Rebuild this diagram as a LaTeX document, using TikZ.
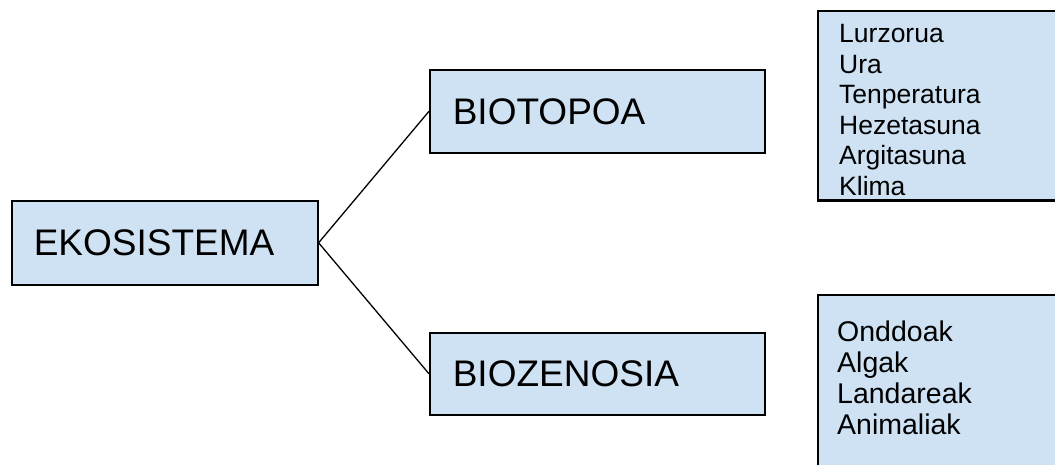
\documentclass[tikz,border=0pt]{standalone}
\usepackage{fontspec}
\setmainfont{Liberation Sans}
\definecolor{boxblue}{HTML}{CFE2F3}
\begin{document}
\begin{tikzpicture}[x=1pt,y=-1pt,
  box/.style={draw=black, fill=boxblue, line width=1.6pt, anchor=north west, inner ysep=0pt, align=left,
    font=\fontsize{37}{44}\selectfont},
  listbox/.style={fill=boxblue, anchor=north west, inner sep=0pt},
  listborder/.style={draw=black, line width=2.6pt},
  listtext/.style={anchor=base west, inner sep=0pt, align=left},
  link/.style={draw=black, line width=1.3pt}]
\useasboundingbox (0,0) rectangle (1055,465);
\clip (0,0) rectangle (1055,465);
\fill[white] (0,0) rectangle (1055,465);
\node[box, inner xsep=22pt, text width=262pt, minimum height=84pt] (eko) at (11,200) {EKOSISTEMA};
\node[box, inner xsep=23pt, text width=289pt, minimum height=83pt] (bio) at (429,69) {BIOTOPOA};
\node[box, inner xsep=23pt, text width=289pt, minimum height=82pt] (bioz) at (429,332) {BIOZENOSIA};
\node[listbox, minimum width=260pt, minimum height=189pt] (abio) at (818,11) {};
\node[listbox, minimum width=260pt, minimum height=190pt] (bizi) at (818,295) {};
\draw[listborder] (abio.north east) -- (abio.north west) -- (abio.south west) -- (abio.south east);
\draw[listborder] (bizi.north east) -- (bizi.north west) -- (bizi.south west) -- (bizi.south east);
\node[listtext, font=\fontsize{26.5}{30.5}\selectfont] (abiot) at (839,195.5)
  {Lurzorua\\Ura\\Tenperatura\\Hezetasuna\\Argitasuna\\Klima};
\node[listtext, font=\fontsize{28.5}{30.7}\selectfont] (bizit) at (837,434)
  {Onddoak\\Algak\\Landareak\\Animaliak};
\draw[link] (eko.east) -- (bio.west);
\draw[link] (eko.east) -- (bioz.west);
\end{tikzpicture}
\end{document}
